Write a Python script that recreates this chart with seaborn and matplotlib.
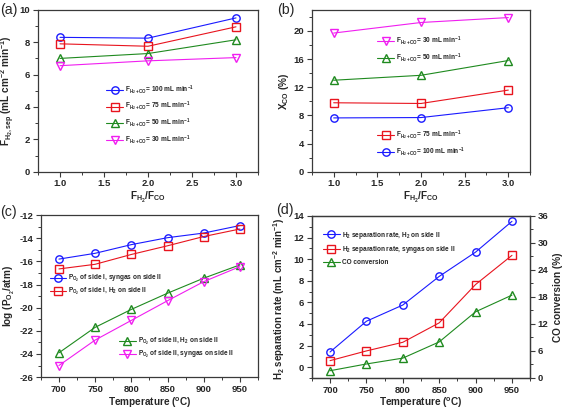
import numpy as np
import pandas as pd
import seaborn as sns
from matplotlib import pyplot as plt
from matplotlib.ticker import AutoMinorLocator, MultipleLocator

# ---- data ----
ratio = [1.0, 2.0, 3.0]

flux_100 = [8.3, 8.25, 9.5]
flux_75 = [7.9, 7.75, 8.95]
flux_50 = [7.0, 7.3, 8.15]
flux_30 = [6.55, 6.85, 7.05]

xco_100 = [7.65, 7.7, 9.1]
xco_75 = [9.8, 9.7, 11.6]
xco_50 = [13.0, 13.7, 15.8]
xco_30 = [19.7, 21.2, 21.9]

temps = [700, 750, 800, 850, 900, 950]
po2_side1_syngas = [-15.8, -15.3, -14.55, -13.95, -13.55, -12.9]
po2_side1_h2 = [-16.65, -16.25, -15.4, -14.65, -13.85, -13.2]
po2_side2_h2 = [-23.9, -21.7, -20.15, -18.75, -17.45, -16.3]
po2_side2_syngas = [-25.0, -22.8, -21.1, -19.4, -17.75, -16.45]

sep_h2 = [1.4, 4.25, 5.75, 8.4, 10.65, 13.5]
sep_syngas = [0.6, 1.5, 2.3, 4.1, 7.65, 10.35]
co_conv = [1.6, 3.1, 4.4, 8.0, 14.7, 18.4]

BLUE = "#1a1aff"
RED = "#e8141e"
GREEN = "#1f8a1f"
MAGENTA = "#f01ef0"
FRAME = "#3a3a3a"

sns.set_theme(style="ticks")
plt.rcParams["font.family"] = ["Liberation Sans", "DejaVu Sans"]
plt.rcParams["font.weight"] = "bold"
plt.rcParams["axes.labelweight"] = "bold"
plt.rcParams["axes.unicode_minus"] = False
plt.rcParams["mathtext.fontset"] = "custom"
plt.rcParams["mathtext.rm"] = "Liberation Sans:bold"
plt.rcParams["mathtext.bf"] = "Liberation Sans:bold"
plt.rcParams["mathtext.it"] = "Liberation Sans:bold"
plt.rcParams["mathtext.default"] = "bf"

STYLE = {
    "o": dict(color=BLUE, marker="o"),
    "s": dict(color=RED, marker="s"),
    "^": dict(color=GREEN, marker="^"),
    "v": dict(color=MAGENTA, marker="v"),
}
LABEL_FS = 7.2
TICK_FS = 6.8


def draw(ax, x, y, kind, label):
    st = STYLE[kind]
    sns.lineplot(x=x, y=y, ax=ax, color=st["color"], marker=st["marker"], markersize=5.3,
                 markerfacecolor="none", markeredgecolor=st["color"], markeredgewidth=1.0,
                 linewidth=0.8, label=label, legend=False)
    return ax.lines[-1]


def style_axes(ax, major_y):
    for sp in ax.spines.values():
        sp.set_color(FRAME)
        sp.set_linewidth(0.9)
    ax.yaxis.set_major_locator(MultipleLocator(major_y))
    ax.xaxis.set_minor_locator(AutoMinorLocator(2))
    ax.yaxis.set_minor_locator(AutoMinorLocator(2))
    ax.tick_params(which="major", direction="out", length=3.5, width=0.8, color=FRAME,
                   labelsize=TICK_FS, pad=2)
    ax.tick_params(which="minor", direction="out", length=2, width=0.7, color=FRAME)


fig = plt.figure(figsize=(5.67, 4.09), dpi=100)
ax_a = fig.add_axes([0.067, 0.58, 0.388, 0.396])
ax_b = fig.add_axes([0.550, 0.58, 0.385, 0.396])
ax_c = fig.add_axes([0.072, 0.078, 0.383, 0.396])
ax_d = fig.add_axes([0.550, 0.076, 0.385, 0.396])

leg_kw = dict(frameon=False, fontsize=4.7, handlelength=2.6, handletextpad=0.3,
              borderaxespad=0.0, borderpad=0.0)


def flow_label(v):
    return r"$F_{H_2+CO}$= " + f"{v} mL min" + r"$^{-1}$"


# (a)
ha = [draw(ax_a, ratio, flux_100, "o", flow_label(100)),
      draw(ax_a, ratio, flux_75, "s", flow_label(75)),
      draw(ax_a, ratio, flux_50, "^", flow_label(50)),
      draw(ax_a, ratio, flux_30, "v", flow_label(30))]
ax_a.set_xlim(0.75, 3.25)
ax_a.set_ylim(0, 10)
ax_a.xaxis.set_major_locator(MultipleLocator(0.5))
ax_a.legend(handles=ha, loc="upper left", bbox_to_anchor=(0.31, 0.545), labelspacing=0.5, **leg_kw)
ax_a.set_xlabel(r"$F_{H_2}/F_{CO}$", fontsize=LABEL_FS, labelpad=1)
ax_a.set_ylabel(r"$F_{H_2,sep}$ (mL cm$^{-2}$ min$^{-1}$)", fontsize=LABEL_FS, labelpad=2)
style_axes(ax_a, 2)

# (b)
hb_top = [draw(ax_b, ratio, xco_30, "v", flow_label(30)),
          draw(ax_b, ratio, xco_50, "^", flow_label(50))]
hb_bot = [draw(ax_b, ratio, xco_75, "s", flow_label(75)),
          draw(ax_b, ratio, xco_100, "o", flow_label(100))]
ax_b.set_xlim(0.75, 3.25)
ax_b.set_ylim(0, 23)
ax_b.xaxis.set_major_locator(MultipleLocator(0.5))
lb = ax_b.legend(handles=hb_top, loc="upper left", bbox_to_anchor=(0.3, 0.845), labelspacing=0.5, **leg_kw)
ax_b.add_artist(lb)
ax_b.legend(handles=hb_bot, loc="upper left", bbox_to_anchor=(0.3, 0.265), labelspacing=0.5, **leg_kw)
ax_b.set_xlabel(r"$F_{H_2}/F_{CO}$", fontsize=LABEL_FS, labelpad=1)
ax_b.set_ylabel(r"$X_{CO}$ (%)", fontsize=LABEL_FS, labelpad=2)
style_axes(ax_b, 4)

# (c)
hc_top = [draw(ax_c, temps, po2_side1_syngas, "o", r"$P_{O_2}$ of side I, syngas on side II"),
          draw(ax_c, temps, po2_side1_h2, "s", r"$P_{O_2}$ of side I, H$_2$ on side II")]
hc_bot = [draw(ax_c, temps, po2_side2_h2, "^", r"$P_{O_2}$ of side II, H$_2$ on side II"),
          draw(ax_c, temps, po2_side2_syngas, "v", r"$P_{O_2}$ of side II, syngas on side II")]
ax_c.set_xlim(675, 975)
ax_c.set_ylim(-26, -12)
ax_c.xaxis.set_major_locator(MultipleLocator(50))
lc = ax_c.legend(handles=hc_top, loc="upper left", bbox_to_anchor=(0.04, 0.64), labelspacing=0.2, **leg_kw)
ax_c.add_artist(lc)
ax_c.legend(handles=hc_bot, loc="upper left", bbox_to_anchor=(0.36, 0.255), labelspacing=0.3, **leg_kw)
ax_c.set_xlabel(r"Temperature ($^o$C)", fontsize=LABEL_FS, labelpad=1)
ax_c.set_ylabel(r"log ($P_{O_2}$/atm)", fontsize=LABEL_FS, labelpad=2)
style_axes(ax_c, 2)

# (d)
ax_d2 = ax_d.twinx()
hd = [draw(ax_d, temps, sep_h2, "o", r"H$_2$ separation rate, H$_2$ on side II"),
      draw(ax_d, temps, sep_syngas, "s", r"H$_2$ separation rate, syngas on side II"),
      draw(ax_d2, temps, co_conv, "^", "CO conversion")]
ax_d.set_xlim(675, 975)
ax_d.xaxis.set_major_locator(MultipleLocator(50))
ax_d.legend(handles=hd, loc="upper left", bbox_to_anchor=(0.05, 0.915), labelspacing=0.55, **leg_kw)
ax_d.set_xlabel(r"Temperature ($^o$C)", fontsize=LABEL_FS, labelpad=1)
ax_d.set_ylabel(r"H$_2$ separation rate (mL cm$^{-2}$ min$^{-1}$)", fontsize=7.0, labelpad=2)
ax_d.yaxis.set_label_coords(-0.115, 0.49)
ax_d2.set_ylabel("CO conversion (%)", fontsize=LABEL_FS, labelpad=3)
style_axes(ax_d, 2)
style_axes(ax_d2, 6)
ax_d.set_ylim(-1, 14)
ax_d2.set_ylim(0, 36)

# panel letters
for x, y, s in [(0.0, 0.975, "(a)"), (0.489, 0.975, "(b)"), (0.0, 0.481, "(c)"), (0.487, 0.486, "(d)")]:
    fig.text(x, y, s, fontsize=10.2, fontweight="normal", va="center", ha="left")

fig.savefig("out.png", dpi=100)
